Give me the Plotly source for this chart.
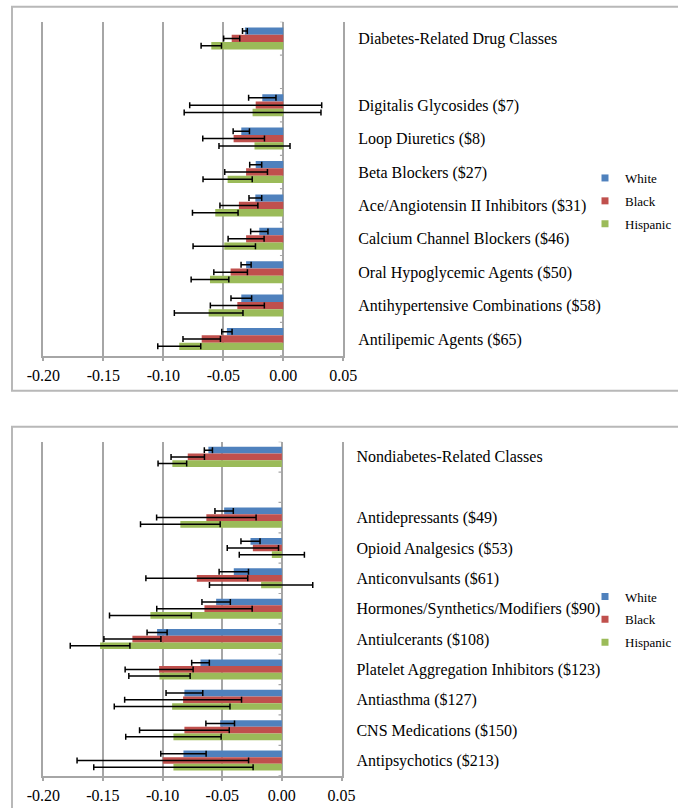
import plotly.graph_objects as go

# ---------------- data ----------------
groups = ["White", "Black", "Hispanic"]
colors = ["#4F81BD", "#C0504D", "#9BBB59"]

cats_dm = ["Diabetes-Related Drug Classes", " ",
           "Digitalis Glycosides ($7)", "Loop Diuretics ($8)", "Beta Blockers ($27)",
           "Ace/Angiotensin II Inhibitors ($31)", "Calcium Channel Blockers ($46)",
           "Oral Hypoglycemic Agents ($50)", "Antihypertensive Combinations ($58)",
           "Antilipemic Agents ($65)"]
white_dm = [-0.032, None, -0.0175, -0.035, -0.023, -0.0233, -0.020, -0.031, -0.035, -0.047]
white_dm_err = [0.002, None, 0.0114, 0.0068, 0.005, 0.0053, 0.0072, 0.0042, 0.0086, 0.0043]
black_dm = [-0.043, None, -0.023, -0.0414, -0.031, -0.037, -0.031, -0.0439, -0.0383, -0.068]
black_dm_err = [0.0067, None, 0.055, 0.0257, 0.0178, 0.0158, 0.015, 0.014, 0.0225, 0.0156]
hisp_dm = [-0.060, None, -0.0256, -0.024, -0.0464, -0.0567, -0.0492, -0.0611, -0.0622, -0.0867]
hisp_dm_err = [0.0085, None, 0.057, 0.0296, 0.0205, 0.019, 0.026, 0.0157, 0.0286, 0.0179]

cats_nd = ["Nondiabetes-Related Classes", " ",
           "Antidepressants ($49)", "Opioid Analgesics ($53)", "Anticonvulsants ($61)",
           "Hormones/Synthetics/Modifiers ($90)", "Antiulcerants ($108)",
           "Platelet Aggregation Inhibitors ($123)", "Antiasthma ($127)",
           "CNS Medications ($150)", "Antipsychotics ($213)"]
white_nd = [-0.0616, None, -0.0484, -0.0263, -0.0403, -0.0551, -0.1046, -0.0682, -0.0817, -0.0517, -0.0825]
white_nd_err = [0.0034, None, 0.0077, 0.008, 0.0123, 0.0119, 0.0084, 0.0074, 0.0154, 0.012, 0.019]
black_nd = [-0.0789, None, -0.0633, -0.0243, -0.0713, -0.0649, -0.1253, -0.1029, -0.0828, -0.0817, -0.0998]
black_nd_err = [0.014, None, 0.0417, 0.0215, 0.0427, 0.040, 0.0239, 0.0285, 0.049, 0.0376, 0.0719]
hisp_nd = [-0.0918, None, -0.0851, -0.0084, -0.0174, -0.1102, -0.1524, -0.1026, -0.092, -0.0909, -0.0909]
hisp_nd_err = [0.012, None, 0.0334, 0.0273, 0.0433, 0.0343, 0.025, 0.0257, 0.0485, 0.04, 0.0668]

x_tickvals = [-0.20, -0.15, -0.10, -0.05, 0.00, 0.05]
x_ticktext = ["-0.20", "-0.15", "-0.10", "-0.05", "0.00", "0.05"]

# ---------------- styling ----------------
W, H = 678, 808
FONT = "Liberation Serif, Times New Roman, serif"
GRID = "#a6a6a6"
BORDER = "#b8b8b8"

def px_x(p):
    return p / W

def px_y(p):
    return 1 - p / H

fig = go.Figure()

panels = [
    (cats_dm, [(white_dm, white_dm_err), (black_dm, black_dm_err), (hisp_dm, hisp_dm_err)],
     "x", "y", "legend"),
    (cats_nd, [(white_nd, white_nd_err), (black_nd, black_nd_err), (hisp_nd, hisp_nd_err)],
     "x2", "y2", "legend2"),
]

shapes = []
for cats, series, xa, ya, leg in panels:
    for name, col, (vals, errs) in zip(groups, colors, series):
        fig.add_trace(go.Bar(
            y=cats, x=vals, orientation="h", name=name,
            marker=dict(color=col, line=dict(width=0)),
            error_x=dict(type="data", array=errs, visible=True, color="#000000",
                         thickness=1.5, width=3),
            xaxis=xa, yaxis=ya, showlegend=False, hoverinfo="skip",
        ))
    for name, col in zip(groups, colors):
        fig.add_trace(go.Scatter(
            x=[None], y=[None], mode="markers", name=name,
            marker=dict(symbol="square", size=7, color=col),
            xaxis=xa, yaxis=ya, legend=leg, legendgroup=leg + name, showlegend=True,
        ))
    # small category ticks on the 0.00 axis line
    for k in range(len(cats) + 1):
        shapes.append(dict(type="line", xref=xa, yref=ya, x0=-0.0028, x1=0,
                           y0=k - 0.5, y1=k - 0.5, line=dict(color=GRID, width=1.2)))

xaxis_common = dict(range=[-0.20, 0.05], tickvals=x_tickvals, ticktext=x_ticktext,
                    showgrid=True, gridcolor=GRID, gridwidth=1.5,
                    zeroline=True, zerolinecolor=GRID, zerolinewidth=1.5,
                    showline=True, linecolor=GRID, linewidth=1.5,
                    ticks="outside", ticklen=4, tickcolor=GRID, tickwidth=1.5,
                    tickfont=dict(family=FONT, size=16, color="#000000"),
                    automargin=False, fixedrange=True)
yaxis_common = dict(type="category", categoryorder="array", side="right",
                    showgrid=False, zeroline=False, showline=True, mirror=True,
                    linecolor=GRID, linewidth=1.5, ticks="", ticklabelstandoff=10,
                    tickfont=dict(family=FONT, size=16, color="#000000"),
                    automargin=False, fixedrange=True)

fig.update_layout(
    width=W, height=H,
    margin=dict(l=0, r=0, t=0, b=0, autoexpand=False),
    paper_bgcolor="white", plot_bgcolor="white",
    barmode="group", bargap=0.34, bargroupgap=0,
    xaxis=dict(domain=[px_x(43.3), px_x(343.3)], anchor="y", **xaxis_common),
    yaxis=dict(domain=[px_y(355.7), px_y(21.7)], anchor="x",
               categoryarray=cats_dm, range=[len(cats_dm) - 0.5, -0.5], **yaxis_common),
    xaxis2=dict(domain=[px_x(43.3), px_x(341.5)], anchor="y2", **xaxis_common),
    yaxis2=dict(domain=[px_y(775.7), px_y(441.7)], anchor="x2",
                categoryarray=cats_nd, range=[len(cats_nd) - 0.5, -0.5], **yaxis_common),
    legend=dict(x=px_x(585), xanchor="left", y=px_y(163), yanchor="top",
                font=dict(family=FONT, size=13, color="#000000"),
                bgcolor="rgba(0,0,0,0)", tracegroupgap=3, itemwidth=30),
    legend2=dict(x=px_x(585), xanchor="left", y=px_y(581.5), yanchor="top",
                 font=dict(family=FONT, size=13, color="#000000"),
                 bgcolor="rgba(0,0,0,0)", tracegroupgap=3, itemwidth=30),
    shapes=shapes + [
        dict(type="rect", xref="paper", yref="paper", x0=px_x(12), x1=1.05,
             y0=px_y(390.7), y1=px_y(6.7), line=dict(color=BORDER, width=2), layer="below"),
        dict(type="rect", xref="paper", yref="paper", x0=px_x(12), x1=1.05,
             y0=-0.05, y1=px_y(426.7), line=dict(color=BORDER, width=2), layer="below"),
    ],
)

fig.write_html("out.html", config={"displayModeBar": False},
               post_script="document.body.style.margin='0px';")
